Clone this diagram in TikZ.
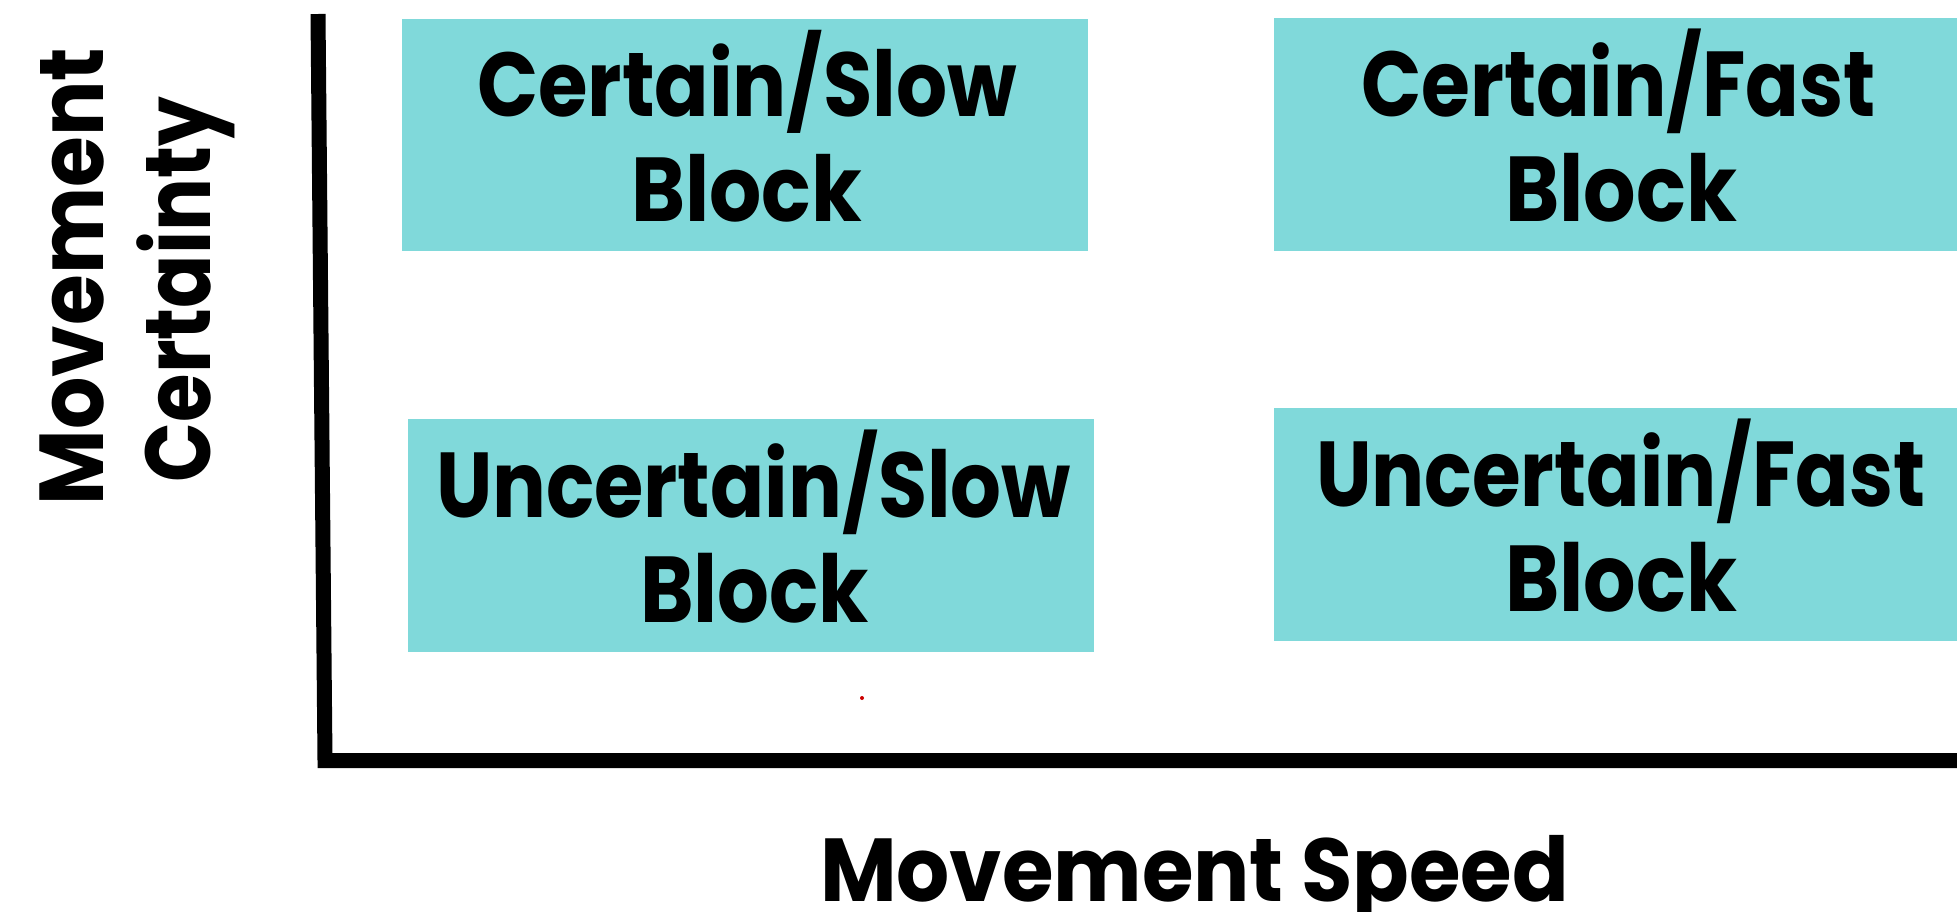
\documentclass[tikz,border=0pt]{standalone}
\usepackage{fontspec}
\setmainfont{Poppins}
\usepackage{graphicx}
\newsavebox\fitbox
\newlength\fitcap
\newcommand\fitline[3]{%
  \sbox\fitbox{#3}%
  \setlength\fitcap{\fontcharht\font`\H}%
  \pgfmathsetmacro\fitsx{#1/\wd\fitbox}%
  \pgfmathsetmacro\fitsy{#2/\fitcap}%
  \scalebox{\fitsx}[\fitsy]{\usebox\fitbox}%
}
\definecolor{teal}{RGB}{128,217,218}
\tikzset{
  quad/.style={fill=teal, draw=none, inner sep=0, rectangle},
  lbl/.style={inner sep=0, anchor=base, font=\fontsize{90}{100}\selectfont\bfseries},
  axis/.style={line width=15pt, line join=miter, line cap=butt, black}
}
\begin{document}
\begin{tikzpicture}[x=1pt,y=-1pt]
\useasboundingbox (0,0) rectangle (1957,911);
\fill[white] (0,0) rectangle (1957,911);
% boxes
\node[quad, minimum width=686pt, minimum height=232pt, anchor=north west] (b1) at (402,19) {};
\node[quad, minimum width=683pt, minimum height=233pt, anchor=north west] (b2) at (1274,18) {};
\node[quad, minimum width=686pt, minimum height=233pt, anchor=north west] (b3) at (408,419) {};
\node[quad, minimum width=683pt, minimum height=233pt, anchor=north west] (b4) at (1274,408) {};
% texts
\node[lbl] (t1a) at (747,116) {\fitline{540}{64}{Certain/Slow}};
\node[lbl] (t1b) at (746.5,221) {\fitline{231}{64}{Block}};
\node[lbl] (t2a) at (1618.5,116) {\fitline{515}{65}{Certain/Fast}};
\node[lbl] (t2b) at (1621,221) {\fitline{232}{65}{Block}};
\node[lbl] (t3a) at (753.5,517) {\fitline{635}{65}{Uncertain/Slow}};
\node[lbl] (t3b) at (754.5,622) {\fitline{229}{66}{Block}};
\node[lbl] (t4a) at (1620.5,506) {\fitline{609}{65}{Uncertain/Fast}};
\node[lbl] (t4b) at (1621,611) {\fitline{232}{66}{Block}};
\node[lbl] (xl) at (1194.5,901) {\fitline{749}{63}{Movement Speed}};
\node[lbl, rotate=90] (yl1) at (103,276.5) {\fitline{457}{64}{Movement}};
\node[lbl, rotate=90] (yl2) at (210,289.5) {\fitline{385}{65}{Certainty}};
% axes
\coordinate (top) at (318,14);
\coordinate (corner) at (325,760.5);
\coordinate (right) at (1970,760.5);
\draw[axis] (top) -- (corner) -- (right);
% stray dot
\fill[red!80!black] (862,698) circle (2pt);
\end{tikzpicture}
\end{document}
